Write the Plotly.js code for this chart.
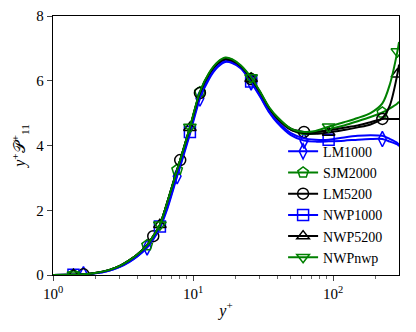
<!DOCTYPE html>
<html>
<head>
<meta charset="utf-8">
<script src="https://cdn.plot.ly/plotly-3.0.1.min.js"></script>
<style>
  html, body { margin: 0; padding: 0; background: #fff; }
  #plot { width: 416px; height: 332px; }
</style>
</head>
<body>
<div id="plot"></div>
<script>
// wall distance y+ (shared sample points)
const yPlus = [1, 1.4, 1.65, 2, 2.5, 3, 3.5, 4, 4.7, 5.2, 5.8, 6.5, 7.7, 8.1, 9.5, 11.2,
  13, 15, 17, 19, 22, 26, 30, 35, 40, 50, 62, 75, 93, 120, 150, 185, 225, 255, 288, 296];

const lm1000 = [0, 0.01, 0.02, 0.05, 0.13, 0.25, 0.4, 0.57, 0.85, 1.1, 1.45, 2.0, 3.05, 3.35, 4.35, 5.45,
  6.05, 6.42, 6.58, 6.55, 6.38, 5.95, 5.52, 5.02, 4.7, 4.32, 4.15, 4.12, 4.13, 4.15, 4.18, 4.2, 4.2, 4.12, 4.03, 3.98];
const sjm2000 = [0, 0.01, 0.02, 0.06, 0.15, 0.28, 0.45, 0.63, 0.92, 1.2, 1.55, 2.2, 3.25, 3.55, 4.55, 5.65,
  6.22, 6.56, 6.7, 6.65, 6.45, 6.08, 5.65, 5.15, 4.85, 4.5, 4.35, 4.38, 4.5, 4.62, 4.75, 4.88, 5.02, 5.15, 5.3, 5.35];
const lm5200 = [0, 0.01, 0.02, 0.06, 0.15, 0.28, 0.45, 0.63, 0.92, 1.2, 1.55, 2.2, 3.25, 3.55, 4.55, 5.62,
  6.2, 6.52, 6.65, 6.6, 6.42, 6.05, 5.65, 5.15, 4.85, 4.52, 4.42, 4.42, 4.47, 4.55, 4.62, 4.72, 4.82, 4.82, 4.82, 4.82];
const nwp1000 = [0, 0.01, 0.02, 0.05, 0.13, 0.25, 0.41, 0.58, 0.87, 1.13, 1.5, 2.05, 3.1, 3.4, 4.42, 5.5,
  6.1, 6.45, 6.6, 6.57, 6.4, 5.98, 5.55, 5.05, 4.75, 4.38, 4.22, 4.18, 4.18, 4.25, 4.3, 4.32, 4.3, 4.2, 4.08, 4.02];
const nwp5200 = [0, 0.01, 0.02, 0.06, 0.15, 0.28, 0.45, 0.63, 0.92, 1.2, 1.55, 2.2, 3.25, 3.55, 4.55, 5.62,
  6.2, 6.54, 6.67, 6.62, 6.44, 6.06, 5.65, 5.15, 4.83, 4.48, 4.38, 4.36, 4.4, 4.48, 4.56, 4.65, 4.85, 5.25, 6.2, 6.5];
const nwpnwp = [0, 0.01, 0.02, 0.06, 0.15, 0.28, 0.45, 0.63, 0.92, 1.2, 1.55, 2.2, 3.25, 3.55, 4.57, 5.66,
  6.24, 6.58, 6.72, 6.67, 6.47, 6.1, 5.68, 5.18, 4.88, 4.52, 4.42, 4.45, 4.58, 4.72, 4.85, 5.0, 5.3, 5.9, 6.9, 7.2];

// where each series carries a marker
const marksLm1000 = [1.65, 4.7, 7.7, 11.2, 26, 62, 225];
const marksSjm2000 = [1.4, 4.7, 7.7, 11.2, 26, 225];
const marksLm5200 = [1.65, 5.2, 8.1, 11.2, 26, 62, 225];
const marksNwp1000 = [1.4, 5.8, 9.5, 26, 93];
const marksNwp5200 = [1.4, 5.8, 9.5, 26, 93, 288];
const marksNwpnwp = [1.4, 5.8, 9.5, 26, 93, 288];

const xTickVals = [1, 10, 100];
const xTickText = ["10<sup>0</sup>", "10<sup>1</sup>", "10<sup>2</sup>"];
const yTickVals = [0, 2, 4, 6, 8];

const FONT = "Liberation Serif, Times New Roman, serif";

// one trace per series: the curve, with markers shown only at the marked points
function series(name, y, marks, color, symbol) {
  const sel = [];
  yPlus.forEach((v, i) => { if (marks.includes(v)) sel.push(i); });
  return {
    x: yPlus,
    y: y,
    name: name,
    type: "scatter",
    mode: "lines+markers",
    line: { color: color, width: 2, shape: "spline", smoothing: 0.8 },
    marker: {
      symbol: symbol,
      color: color,
      size: 11,
      line: { color: color, width: 1.5 },
    },
    selectedpoints: sel,
    selected: { marker: { opacity: 1 } },
    unselected: { marker: { opacity: 0 } },
  };
}

const traces = [
  series("LM1000", lm1000, marksLm1000, "#0000ff", "diamond-tall-open"),
  series("SJM2000", sjm2000, marksSjm2000, "#008000", "pentagon-open"),
  series("LM5200", lm5200, marksLm5200, "#000000", "circle-open"),
  series("NWP1000", nwp1000, marksNwp1000, "#0000ff", "square-open"),
  series("NWP5200", nwp5200, marksNwp5200, "#000000", "triangle-up-open"),
  series("NWPnwp", nwpnwp, marksNwpnwp, "#008000", "triangle-down-open"),
];

// minor ticks 2..9 of each decade
const minorVals = [];
for (let d = 1; d <= 100; d *= 10) {
  for (let k = 2; k <= 9; k++) minorVals.push(k * d);
}

const layout = {
  width: 416,
  height: 332,
  margin: { l: 53, r: 17, t: 16, b: 57 },
  paper_bgcolor: "#ffffff",
  plot_bgcolor: "#ffffff",
  font: { family: FONT, size: 15, color: "#000" },
  showlegend: true,
  legend: {
    x: 0.665,
    xanchor: "left",
    y: 0.005,
    yanchor: "bottom",
    bgcolor: "rgba(0,0,0,0)",
    borderwidth: 0,
    font: { family: FONT, size: 14 },
    tracegroupgap: 0,
  },
  xaxis: {
    type: "log",
    range: [0, 2.471],
    tickmode: "array",
    tickvals: xTickVals,
    ticktext: xTickText,
    ticks: "outside",
    ticklen: 5,
    tickwidth: 1,
    minor: { tickmode: "array", tickvals: minorVals, ticks: "outside", ticklen: 3, tickwidth: 0.8 },
    showgrid: false,
    zeroline: false,
    showline: true,
    linecolor: "#000",
    linewidth: 1.2,
    mirror: true,
    title: { text: "<i>y</i><sup>+</sup>", font: { family: FONT, size: 16 }, standoff: 3 },
  },
  yaxis: {
    range: [0, 8],
    tickmode: "array",
    tickvals: yTickVals,
    ticks: "outside",
    ticklen: 5,
    tickwidth: 1,
    showgrid: false,
    zeroline: false,
    showline: true,
    linecolor: "#000",
    linewidth: 1.2,
    mirror: true,
    title: {
      text: "<i>y</i><sup>+</sup>𝒫<sup>+</sup><sub>11</sub>",
      font: { family: FONT, size: 16 },
      standoff: 6,
    },
  },
};

Plotly.newPlot("plot", traces, layout, { displayModeBar: false, staticPlot: true });
</script>
</body>
</html>
